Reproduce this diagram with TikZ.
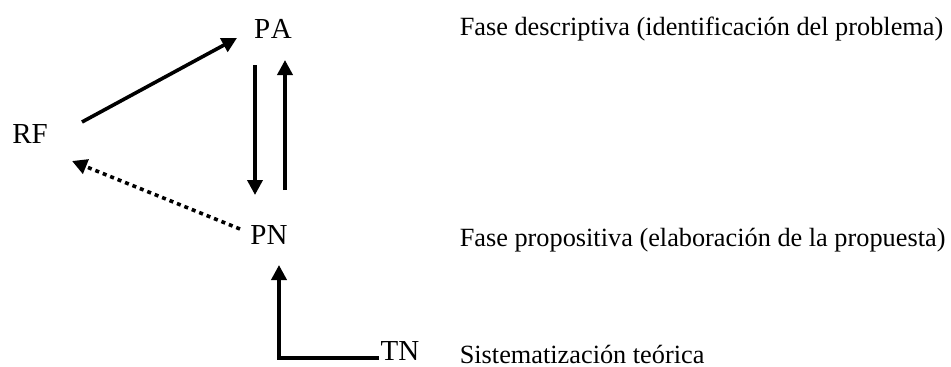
\documentclass[tikz,border=0pt]{standalone}
\usepackage{fontspec}
\setmainfont{Liberation Serif}
\usetikzlibrary{arrows.meta}

\begin{document}
\begin{tikzpicture}[x=1pt,y=-1pt,->,>={Triangle[length=15pt,width=15pt]},line width=3.6pt,
  every node/.style={inner sep=0pt,font=\fontsize{29}{32}\selectfont},
  fase/.style={anchor=base west,font=\fontsize{26.3}{30}\selectfont}]
  \useasboundingbox (0,0) rectangle (951,367);
  \node (PA) at (273,29) {P\kern0.5pt A};
  \node (RF) at (30,134) {RF};
  \node (PN) at (269,235) {PN};
  \node (TN) at (400,351) {TN};
  \node[fase] (f1) at (458,35) {Fase descriptiva (identificación del problema)};
  \node[fase] (f2) at (458,246) {Fase propositiva (elaboración de la propuesta)};
  \node[fase] (f3) at (458,363) {Sistematización teórica};
  \draw ([shift={(52,-12)}]RF.center) -- ([shift={(-36,9)}]PA.center);
  \draw ([shift={(-18,36)}]PA.center) -- ([shift={(-14,-40)}]PN.center);
  \draw ([shift={(16,-45)}]PN.center) -- ([shift={(12,31)}]PA.center);
  \draw[dash pattern=on 4pt off 4pt] ([shift={(-29,-6)}]PN.center) -- ([shift={(42,27)}]RF.center);
  \draw ([shift={(-21,7)}]TN.center) -| ([shift={(10,30)}]PN.center);
\end{tikzpicture}
\end{document}
